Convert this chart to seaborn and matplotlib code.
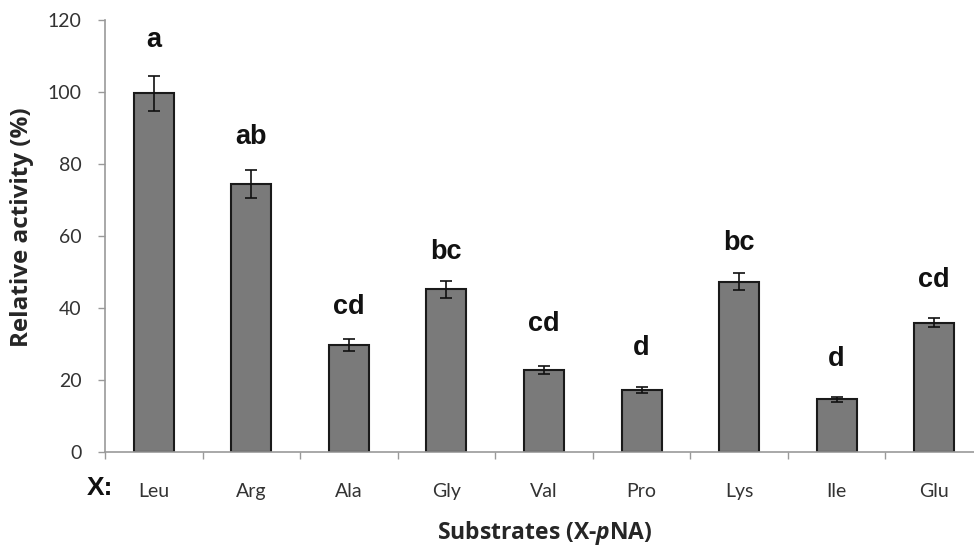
import numpy as np
import pandas as pd
import seaborn as sns
import matplotlib.pyplot as plt
from matplotlib.ticker import FixedLocator

substrates = ['Leu', 'Arg', 'Ala', 'Gly', 'Val', 'Pro', 'Lys', 'Ile', 'Glu']
activity = [99.6, 74.4, 29.7, 45.2, 22.8, 17.2, 47.3, 14.6, 35.9]
errors = [4.9, 3.9, 1.6, 2.4, 1.2, 0.8, 2.3, 0.75, 1.3]
letters = ['a', 'ab', 'cd', 'bc', 'cd', 'd', 'bc', 'd', 'cd']
letter_y = [114.3, 87.4, 40.4, 55.6, 35.6, 28.8, 58.1, 25.7, 47.7]

df = pd.DataFrame({'substrate': substrates, 'activity': activity})

sns.set_style('white')
plt.rcParams['mathtext.fontset'] = 'custom'
plt.rcParams['mathtext.bfit'] = 'Open Sans:italic:bold'
plt.rcParams['mathtext.bf'] = 'Open Sans:bold'

fig = plt.figure(figsize=(9.74, 5.47), dpi=100)
ax = fig.add_axes([0.1078, 0.1737, 0.9014, 0.7898])

sns.barplot(data=df, x='substrate', y='activity', color='#7a7a7a',
            saturation=1, width=0.41, edgecolor='#1a1a1a', linewidth=1.5,
            errorbar=None, ax=ax)
ax.errorbar(np.arange(len(substrates)), activity, yerr=errors, fmt='none',
            ecolor='#111111', elinewidth=1.2, capsize=4.5, capthick=1.2)

for i, (lab, yy) in enumerate(zip(letters, letter_y)):
    ax.text(i, yy, lab, ha='center', va='center', fontsize=19.5,
            fontweight='bold', family='Liberation Sans', color='#111111')

ax.set_xlim(-0.5, len(substrates) - 0.5)
ax.set_ylim(0, 120)
ax.set_yticks(range(0, 121, 20))
ax.set_yticklabels([str(v) for v in range(0, 121, 20)], family='Lato',
                   fontsize=14, color='#333333')
ax.tick_params(axis='y', left=True, length=5, width=1, color='#999999', pad=12)

ax.set_xticks(range(len(substrates)))
ax.set_xticklabels(substrates, family='Lato', fontsize=14, color='#333333')
ax.tick_params(axis='x', which='major', length=0, pad=22)
ax.xaxis.set_minor_locator(FixedLocator(np.arange(-0.5, len(substrates), 1)))
ax.tick_params(axis='x', which='minor', length=5, width=1, color='#999999',
               bottom=True)

for s in ['top', 'right']:
    ax.spines[s].set_visible(False)
for s in ['left', 'bottom']:
    ax.spines[s].set_color('#999999')
    ax.spines[s].set_linewidth(1.2)

ax.set_ylabel('Relative activity (%)', fontsize=17.5, fontweight='bold',
              family='Open Sans')
ax.yaxis.set_label_coords(-0.081, 0.52)
ax.set_xlabel(r'Substrates (X-$\mathbfit{p}$NA)', fontsize=16.5,
              fontweight='bold', family='Open Sans')
ax.xaxis.set_label_coords(0.501, -0.155)
fig.text(0.1027, 0.108, 'X:', fontsize=19, fontweight='bold',
         family='Liberation Sans', ha='center', va='center', color='#111111')

fig.savefig('out.png', dpi=100)
